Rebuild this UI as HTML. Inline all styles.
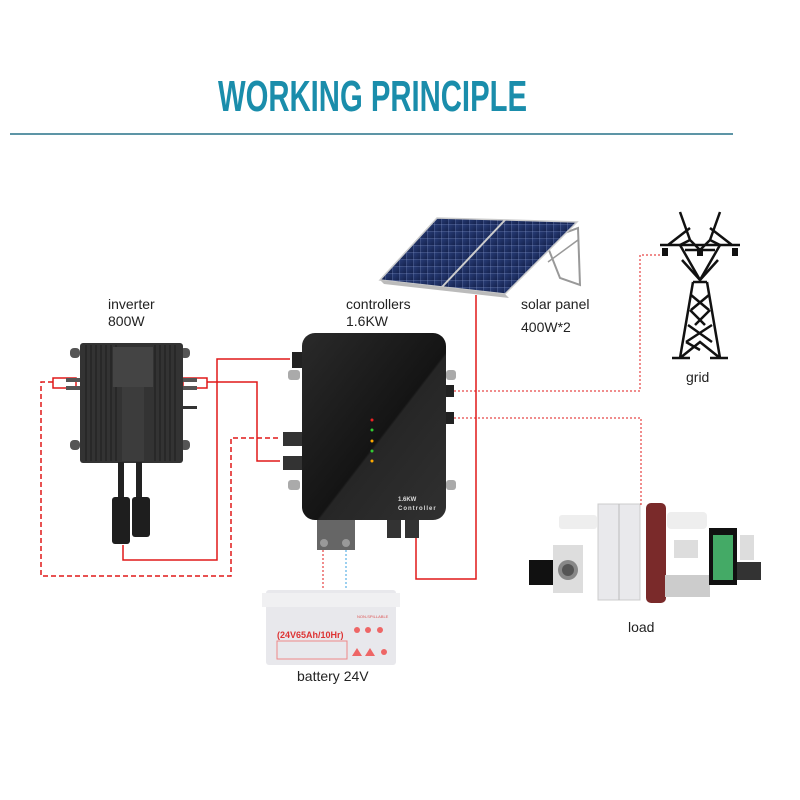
<!DOCTYPE html>
<html><head><meta charset="utf-8"><style>
html,body{margin:0;padding:0;background:#fff;}
svg{display:block;}
text{font-family:"Liberation Sans",sans-serif;}
</style></head><body>
<svg width="800" height="800" viewBox="0 0 800 800" xmlns="http://www.w3.org/2000/svg">
<defs>
<linearGradient id="cg" x1="0" y1="0" x2="1" y2="1">
<stop offset="0" stop-color="#2a2a2a"/><stop offset="0.55" stop-color="#141414"/><stop offset="0.56" stop-color="#262626"/><stop offset="1" stop-color="#303030"/>
</linearGradient>
<linearGradient id="sp" x1="0" y1="0" x2="1" y2="1">
<stop offset="0" stop-color="#2a3f7a"/><stop offset="1" stop-color="#15234f"/>
</linearGradient>
<pattern id="cells" width="7" height="7" patternUnits="userSpaceOnUse">
<rect width="7" height="7" fill="url(#sp)"/><path d="M0 0H7M0 0V7" stroke="#8896c0" stroke-width="0.5"/>
</pattern>
</defs>
<rect width="800" height="800" fill="#fff"/>
<text x="218" y="111" font-family="'Liberation Sans Narrow','Liberation Sans',sans-serif" font-weight="bold" font-size="44" fill="#1a8dab" textLength="309" lengthAdjust="spacingAndGlyphs">WORKING PRINCIPLE</text>
<rect x="10" y="133" width="723" height="2" fill="#5d95a6"/>

<!-- solar panel -->
<polygon points="545,240 578,228 580,285 560,278" fill="none" stroke="#999" stroke-width="2"/>
<line x1="548" y1="262" x2="578" y2="240" stroke="#999" stroke-width="1.5"/>
<polygon points="437,218 577,222 505,294 380,280" fill="url(#cells)" stroke="#ccc" stroke-width="1.5"/>
<line x1="505" y1="220" x2="442" y2="287" stroke="#ccc" stroke-width="2"/>
<polygon points="380,280 505,294 509,298 384,284" fill="#bbb"/>

<!-- grid tower -->
<g stroke="#111" stroke-width="2.5" fill="none">
<path d="M680 212 L690 240 L700 250 L710 240 L720 212"/>
<path d="M660 245 L740 245 M668 245 L690 228 M732 245 L710 228"/>
<path d="M690 240 L680 245 L700 280 M710 240 L720 245 L700 280"/>
<path d="M682 260 L700 280 L718 260 M685 250 L715 250"/>
<path d="M693 282 L707 282 M693 282 L680 358 M707 282 L720 358"/>
<path d="M691 295 L709 310 M709 295 L691 310 M690 310 L705 325 M710 310 L695 325 M688 325 L712 342 M712 325 L686 342 M686 342 L700 350"/>
<path d="M672 358 L690 358 M710 358 L728 358 M680 358 L700 342 L720 358"/>
</g>
<g fill="#111"><rect x="662" y="248" width="6" height="8"/><rect x="697" y="248" width="6" height="8"/><rect x="732" y="248" width="6" height="8"/></g>

<!-- connectors red -->
<g fill="none" stroke="#e01818" stroke-width="1.5">
<rect x="53" y="378" width="23" height="10"/>
<rect x="183" y="378" width="24" height="10"/>
<path d="M207 382 H257 V461 H280"/>
<path d="M290 359 H217 V560 H123 V545"/>
<path d="M476 295 V579 H416 V537"/>
<path d="M53 382 H41 V576 H231 V438 H280" stroke-dasharray="5,3"/>
</g>
<g fill="none" stroke="#e01818" stroke-width="1" stroke-dasharray="2,2">
<path d="M446 391 H640 V255 H660"/>
<path d="M446 418 H641 V505"/>
<path d="M323 550 V590"/>
</g>
<path d="M346 550 V590" stroke="#3aa0e0" stroke-width="1" stroke-dasharray="2,2"/>

<!-- inverter -->
<g>
<rect x="70" y="348" width="10" height="10" rx="4" fill="#555"/><rect x="70" y="440" width="10" height="10" rx="4" fill="#555"/>
<rect x="180" y="348" width="10" height="10" rx="4" fill="#555"/><rect x="180" y="440" width="10" height="10" rx="4" fill="#555"/>
<rect x="80" y="343" width="103" height="120" rx="3" fill="#333"/>
<g stroke="#1c1c1c" stroke-width="1">
<path d="M86 345V461M91 345V461M96 345V461M101 345V461M106 345V461M111 345V461M116 345V461M155 345V461M160 345V461M165 345V461M170 345V461M175 345V461"/>
</g>
<rect x="113" y="347" width="40" height="40" fill="#444"/>
<rect x="122" y="387" width="22" height="74" fill="#3c3c3c"/>
<rect x="183" y="406" width="14" height="3" fill="#333"/>
<rect x="66" y="378" width="14" height="4" fill="#555"/><rect x="66" y="386" width="14" height="4" fill="#555"/>
<rect x="183" y="378" width="14" height="4" fill="#555"/><rect x="183" y="386" width="14" height="4" fill="#555"/>
<rect x="118" y="462" width="6" height="40" fill="#222"/><rect x="136" y="462" width="6" height="40" fill="#222"/>
<rect x="112" y="497" width="18" height="47" rx="3" fill="#1e1e1e"/><rect x="132" y="497" width="18" height="40" rx="3" fill="#1e1e1e"/>
</g>

<!-- controller -->
<g>
<rect x="292" y="352" width="12" height="16" fill="#222"/>
<rect x="283" y="432" width="20" height="14" fill="#333"/><rect x="283" y="456" width="20" height="14" fill="#333"/>
<rect x="444" y="385" width="10" height="12" fill="#222"/><rect x="444" y="412" width="10" height="12" fill="#222"/>
<rect x="288" y="370" width="12" height="10" rx="3" fill="#aaa"/><rect x="288" y="480" width="12" height="10" rx="3" fill="#aaa"/>
<rect x="446" y="370" width="10" height="10" rx="3" fill="#aaa"/><rect x="446" y="480" width="10" height="10" rx="3" fill="#aaa"/>
<rect x="302" y="333" width="144" height="187" rx="13" fill="url(#cg)"/>
<circle cx="372" cy="420" r="1.5" fill="#e22"/><circle cx="372" cy="430" r="1.5" fill="#3c3"/><circle cx="372" cy="441" r="1.5" fill="#fa0"/><circle cx="372" cy="451" r="1.5" fill="#3c3"/><circle cx="372" cy="461" r="1.5" fill="#fa0"/>
<text x="398" y="501" font-size="6" font-weight="bold" fill="#ddd">1.6KW</text>
<text x="398" y="510" font-size="6" font-weight="bold" fill="#ddd" letter-spacing="1">Controller</text>
<rect x="317" y="520" width="38" height="30" fill="#666"/>
<circle cx="324" cy="543" r="4" fill="#999"/><circle cx="346" cy="543" r="4" fill="#999"/>
<rect x="387" y="520" width="14" height="18" fill="#333"/><rect x="405" y="520" width="14" height="18" fill="#333"/>
</g>

<!-- battery -->
<rect x="266" y="590" width="130" height="75" rx="3" fill="#e8e8ec"/>
<rect x="262" y="593" width="138" height="14" fill="#f0f0f2"/>
<text x="277" y="638" font-size="9" font-weight="bold" fill="#d33">(24V65Ah/10Hr)</text>
<rect x="277" y="641" width="70" height="18" fill="none" stroke="#e88" stroke-width="1"/>
<text x="357" y="618" font-size="4" fill="#d55">NON-SPILLABLE</text>
<g fill="#e66"><circle cx="357" cy="630" r="3"/><circle cx="368" cy="630" r="3"/><circle cx="380" cy="630" r="3"/><polygon points="357,648 352,656 362,656"/><polygon points="370,648 365,656 375,656"/><circle cx="384" cy="652" r="3"/></g>

<!-- load appliances -->
<g>
<rect x="529" y="560" width="33" height="25" fill="#111"/>
<rect x="553" y="545" width="30" height="48" fill="#ddd"/><circle cx="568" cy="570" r="10" fill="#888"/><circle cx="568" cy="570" r="6" fill="#555"/>
<rect x="559" y="515" width="38" height="14" rx="3" fill="#eee"/>
<rect x="598" y="504" width="42" height="96" fill="#e9e9ec" stroke="#ccc"/>
<line x1="619" y1="504" x2="619" y2="600" stroke="#bbb"/>
<rect x="646" y="503" width="20" height="100" rx="5" fill="#7a2a2a"/>
<rect x="667" y="512" width="40" height="17" rx="4" fill="#eee"/>
<rect x="674" y="540" width="24" height="18" fill="#ddd"/>
<rect x="665" y="575" width="45" height="22" fill="#ccc"/>
<rect x="709" y="528" width="28" height="57" fill="#111"/><rect x="713" y="535" width="20" height="45" fill="#4a6"/>
<rect x="740" y="535" width="14" height="25" fill="#ddd"/>
<rect x="737" y="562" width="24" height="18" fill="#333"/>
</g>

<!-- labels -->
<g font-size="14" fill="#222">
<text x="108" y="309">inverter</text>
<text x="108" y="326">800W</text>
<text x="346" y="309">controllers</text>
<text x="346" y="326">1.6KW</text>
<text x="521" y="309">solar panel</text>
<text x="521" y="332">400W*2</text>
<text x="686" y="382">grid</text>
<text x="628" y="632">load</text>
<text x="297" y="681">battery 24V</text>
</g>
</svg>
</body></html>
